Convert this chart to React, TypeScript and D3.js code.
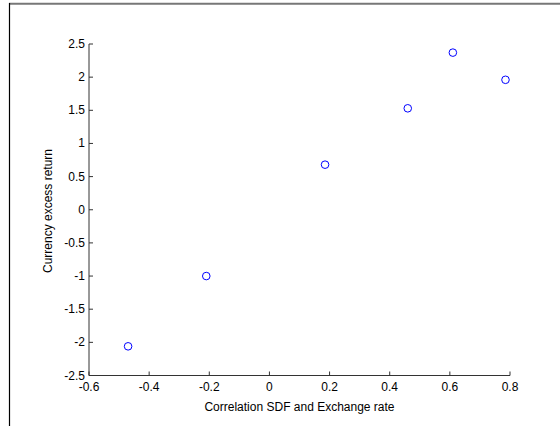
import React from "react";
import * as d3 from "d3";

const xValues: number[] = [-0.47, -0.21, 0.185, 0.46, 0.61, 0.785];
const yValues: number[] = [-2.06, -1.0, 0.68, 1.53, 2.37, 1.96];
const xTicks: number[] = [-0.6, -0.4, -0.2, 0, 0.2, 0.4, 0.6, 0.8];
const yTicks: number[] = [-2.5, -2, -1.5, -1, -0.5, 0, 0.5, 1, 1.5, 2, 2.5];
const xLabel = "Correlation SDF and Exchange rate";
const yLabel = "Currency excess return";

export default function App() {
  const W = 560, H = 426;
  const left = 89, right = 510, top = 44, bottom = 375.5;
  const x = d3.scaleLinear().domain([-0.6, 0.8]).range([left, right]);
  const y = d3.scaleLinear().domain([-2.5, 2.5]).range([bottom, top]);
  const font = "'Liberation Sans', Arial, Helvetica, sans-serif";
  const fs = 12;
  const fmt = (v: number) => (Math.abs(v) < 1e-9 ? "0" : String(v));
  return (
    <svg
      width={W}
      height={H}
      style={{ position: "absolute", left: 0, top: 0, background: "#fff" }}
      fontFamily={font}
    >
      <rect x={0} y={0} width={W} height={H} fill="#fff" />
      <line x1={9} x2={W} y1={3.8} y2={3.8} stroke="#777" strokeWidth={2} />
      <line x1={9.5} x2={9.5} y1={3} y2={H} stroke="#000" strokeWidth={1.2} />
      <line x1={left} x2={left} y1={top} y2={bottom} stroke="#333" strokeWidth={1} />
      <line x1={left} x2={right} y1={bottom} y2={bottom} stroke="#333" strokeWidth={1} />
      {yTicks.map((t) => (
        <g key={"y" + t}>
          <line x1={left} x2={left + 4} y1={y(t)} y2={y(t)} stroke="#333" strokeWidth={1} />
          <text x={left - 4} y={y(t) + 4} textAnchor="end" fontSize={fs} fill="#000">
            {fmt(t)}
          </text>
        </g>
      ))}
      {xTicks.map((t) => (
        <g key={"x" + t}>
          <line x1={x(t)} x2={x(t)} y1={bottom} y2={bottom - 4} stroke="#333" strokeWidth={1} />
          <text x={x(t)} y={bottom + 15} textAnchor="middle" fontSize={fs} fill="#000">
            {fmt(t)}
          </text>
        </g>
      ))}
      <text x={(left + right) / 2} y={411} textAnchor="middle" fontSize={fs} fill="#000">
        {xLabel}
      </text>
      <text
        transform={`translate(52, 211) rotate(-90)`}
        textAnchor="middle"
        fontSize={fs}
        fill="#000"
      >
        {yLabel}
      </text>
      {xValues.map((v, i) => (
        <circle
          key={i}
          cx={x(v)}
          cy={y(yValues[i])}
          r={3.8}
          fill="none"
          stroke="#0000ff"
          strokeWidth={1}
        />
      ))}
    </svg>
  );
}
